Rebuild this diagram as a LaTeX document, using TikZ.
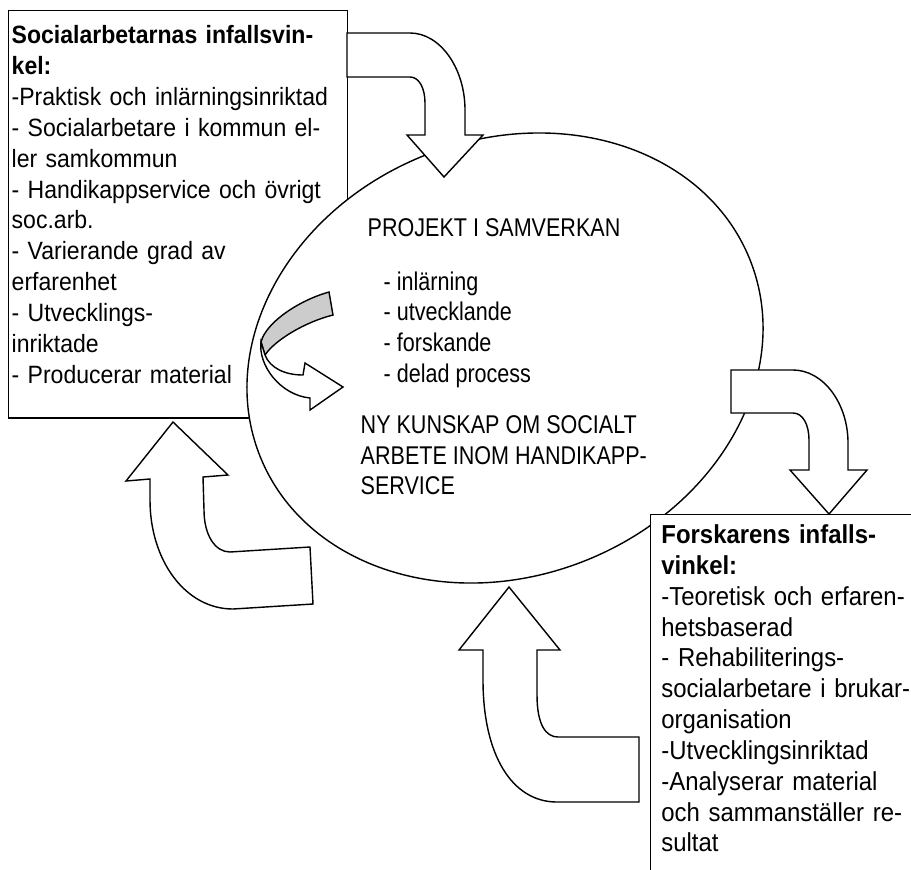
\documentclass[tikz,border=0pt]{standalone}
\usepackage{fontspec}
\setmainfont{Liberation Sans}
\newfontfamily\narrowfont{Liberation Sans}[FakeStretch=0.84]
\newfontfamily\boxfont{Liberation Sans}[FakeStretch=0.92]
\usepackage{tikz}
\usetikzlibrary{shapes.geometric,positioning}
\definecolor{mygray}{RGB}{204,204,204}

\begin{document}
\begin{tikzpicture}[
  x=0.02cm,
  y=-0.02cm,
  thick,
  myinfobox/.style={
    draw,
    fill=white,
    anchor=north west,
    align=left,
    font=\boxfont\fontsize{#1}{17.55}\selectfont
    },
  myblockarrow/.style={
    draw,
    fill=white
    },
  mycentertext/.style={
    anchor=north west,
    align=left,
    inner sep=0pt,
    font=\narrowfont\fontsize{14.6}{17.4}\selectfont
  }
]
\useasboundingbox (0,0) rectangle (911,869);

\node[myinfobox=14.25, text width=6.66cm, inner xsep=0.06cm, inner ysep=0.3cm]
  (social) at (8,10)
  {
  \textbf{Socialarbetarnas infallsvin-}\\
  \textbf{kel:}\\
  -Praktisk och inlärningsinriktad\\
  - Socialarbetare i kommun el-\\
  ler samkommun\\
  - Handikappservice och övrigt\\
  soc.arb.\\
  - Varierande grad av\\
  erfarenhet\\
  - Utvecklings-\\
  inriktade\\
  - Producerar material\rule[-0.4cm]{0pt}{0pt}
  };

\node[draw, fill=white, ellipse, rotate=22, minimum width=10.56cm, minimum height=8.72cm, inner sep=0pt]
  (projekt) at (505,358) {};

\node[myinfobox=14.8, text width=6cm, inner xsep=0.214cm, inner ysep=0.2cm]
  (forskare) at (650,514)
  {
  \textbf{Forskarens infalls-}\\
  \textbf{vinkel:}\\
  -Teoretisk och erfaren-\\
  hetsbaserad\\
  - Rehabiliterings-\\
  socialarbetare i brukar-\\
  organisation\\
  -Utvecklingsinriktad\\
  -Analyserar material\\
  och sammanställer re-\\
  sultat\rule[-2cm]{0pt}{0pt}
  };

\draw[myblockarrow] (347,77) -- (410,77) .. controls (419,77) and (425,88) .. (425,103) -- (425,135)
  -- (407,135) -- (444,177) -- (483,135) -- (465,135) -- (465,110)
  .. controls (465,68) and (440,33) .. (410,33) -- (347,33) -- cycle;
\draw[myblockarrow] (731,370) -- (731,413) -- (793,413) .. controls (803,413) and (809,425) .. (809,440) -- (809,470)
  -- (790,470) -- (829,514) -- (867,470) -- (848,470) -- (848,443)
  .. controls (848,403) and (823,370) .. (793,370) -- cycle;
\draw[myblockarrow] (173,422) -- (228,475) -- (203,477) -- (204,510) .. controls (204,535) and (215,552) .. (230,552)
  -- (310,547) -- (313,604) -- (233,609) .. controls (185,609) and (150,560) .. (150,500)
  -- (150,479) -- (126,481) -- cycle;
\draw[myblockarrow] (509,587) -- (560,650) -- (537,650) -- (537,695) .. controls (537,725) and (546,737) .. (558,737)
  -- (639,737) -- (639,802) -- (557,802) .. controls (512,802) and (483,755) .. (483,680)
  -- (483,650) -- (459,650) -- cycle;

\draw[fill=mygray] (329,292) .. controls (300,300) and (266,322) .. (261,342) -- (265,355)
  .. controls (275,340) and (305,322) .. (333,315) -- cycle;
\draw[myblockarrow] (261,342) .. controls (258,365) and (280,395) .. (310,398) -- (310,410) -- (343,387)
  -- (305,363) -- (303,375) .. controls (285,375) and (270,368) .. (265,355) -- cycle;

\node[mycentertext, anchor=base west] (rubrik) at (367,236) {PROJEKT I SAMVERKAN};
\node[mycentertext] (lista) at (383,271) {- inlärning\\- utvecklande\\- forskande\\- delad process};
\node[mycentertext] (resultat) at (360,415) {NY KUNSKAP OM SOCIALT\\ARBETE INOM HANDIKAPP-\\SERVICE};

\end{tikzpicture}
\end{document}
